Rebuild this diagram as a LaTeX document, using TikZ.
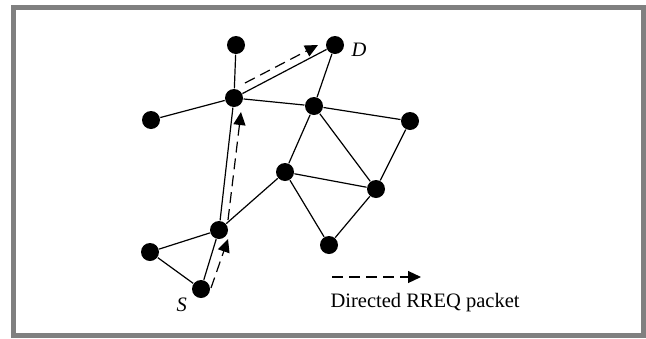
\documentclass[tikz,border=0pt]{standalone}
\usepackage{fontspec}
\setmainfont{Liberation Serif}
\usetikzlibrary{arrows.meta}
\definecolor{framegray}{RGB}{128,128,128}

\begin{document}
\begin{tikzpicture}[x=1pt,y=-1pt,>={Triangle[length=13pt,width=12pt]},
  line width=1.2pt,
  main node/.style={circle,fill=black,draw=none,inner sep=0pt,minimum size=18pt},
  label node/.style={inner sep=0pt,font=\fontsize{20.5}{24}\selectfont},
  rreq/.style={->,dash pattern=on 11pt off 6pt}]

  \useasboundingbox (0,0) rectangle (646,338);
  \draw[framegray,line width=5pt] (13.5,7.5) rectangle (643.5,335.5);

  \node[main node] (top) at (236,45) {};
  \node[main node] (D) at (335,45) {};
  \node[main node] (hub) at (234,98) {};
  \node[main node] (left) at (151,120) {};
  \node[main node] (mid) at (314,106) {};
  \node[main node] (right) at (410,121) {};
  \node[main node] (center) at (285,172) {};
  \node[main node] (rightlow) at (376,189) {};
  \node[main node] (bottom) at (329,245) {};
  \node[main node] (lower) at (219,230) {};
  \node[main node] (leftlow) at (150,252) {};
  \node[main node] (S) at (201,289) {};

   \node[label node,anchor=base west] (Dlab) at (351,56) {\textit{D}};
   \node[label node,anchor=base west] (Slab) at (176,311) {\textit{S}};
   \node[label node,anchor=base west] (legend) at (330,307.5) {Directed RREQ packet};

  \path
    (top) edge (hub)
    (hub) edge (D)
    (hub) edge (left)
    (hub) edge (mid)
    (D) edge (mid)
    (mid) edge (right)
    (mid) edge (center)
    (mid) edge (rightlow)
    (right) edge (rightlow)
    (center) edge (rightlow)
    (center) edge (bottom)
    (bottom) edge (rightlow)
    (center) edge (lower)
    (lower) edge (hub)
    (lower) edge (leftlow)
    (leftlow) edge (S)
    (S) edge (lower)
    ;

  % RREQ path S -> lower -> hub -> D
  \coordinate (r1a) at (211,288);
  \coordinate (r1b) at (228,239);
  \coordinate (r2a) at (228,220);
  \coordinate (r2b) at (241,112);
  \coordinate (r3a) at (245,83);
  \coordinate (r3b) at (318,45);
  \coordinate (lga) at (332,277);
  \coordinate (lgb) at (421,277);
  \draw[rreq] (r1a) -- (r1b);
  \draw[rreq] (r2a) -- (r2b);
  \draw[rreq] (r3a) -- (r3b);
  \draw[rreq] (lga) -- (lgb);
\end{tikzpicture}
\end{document}
